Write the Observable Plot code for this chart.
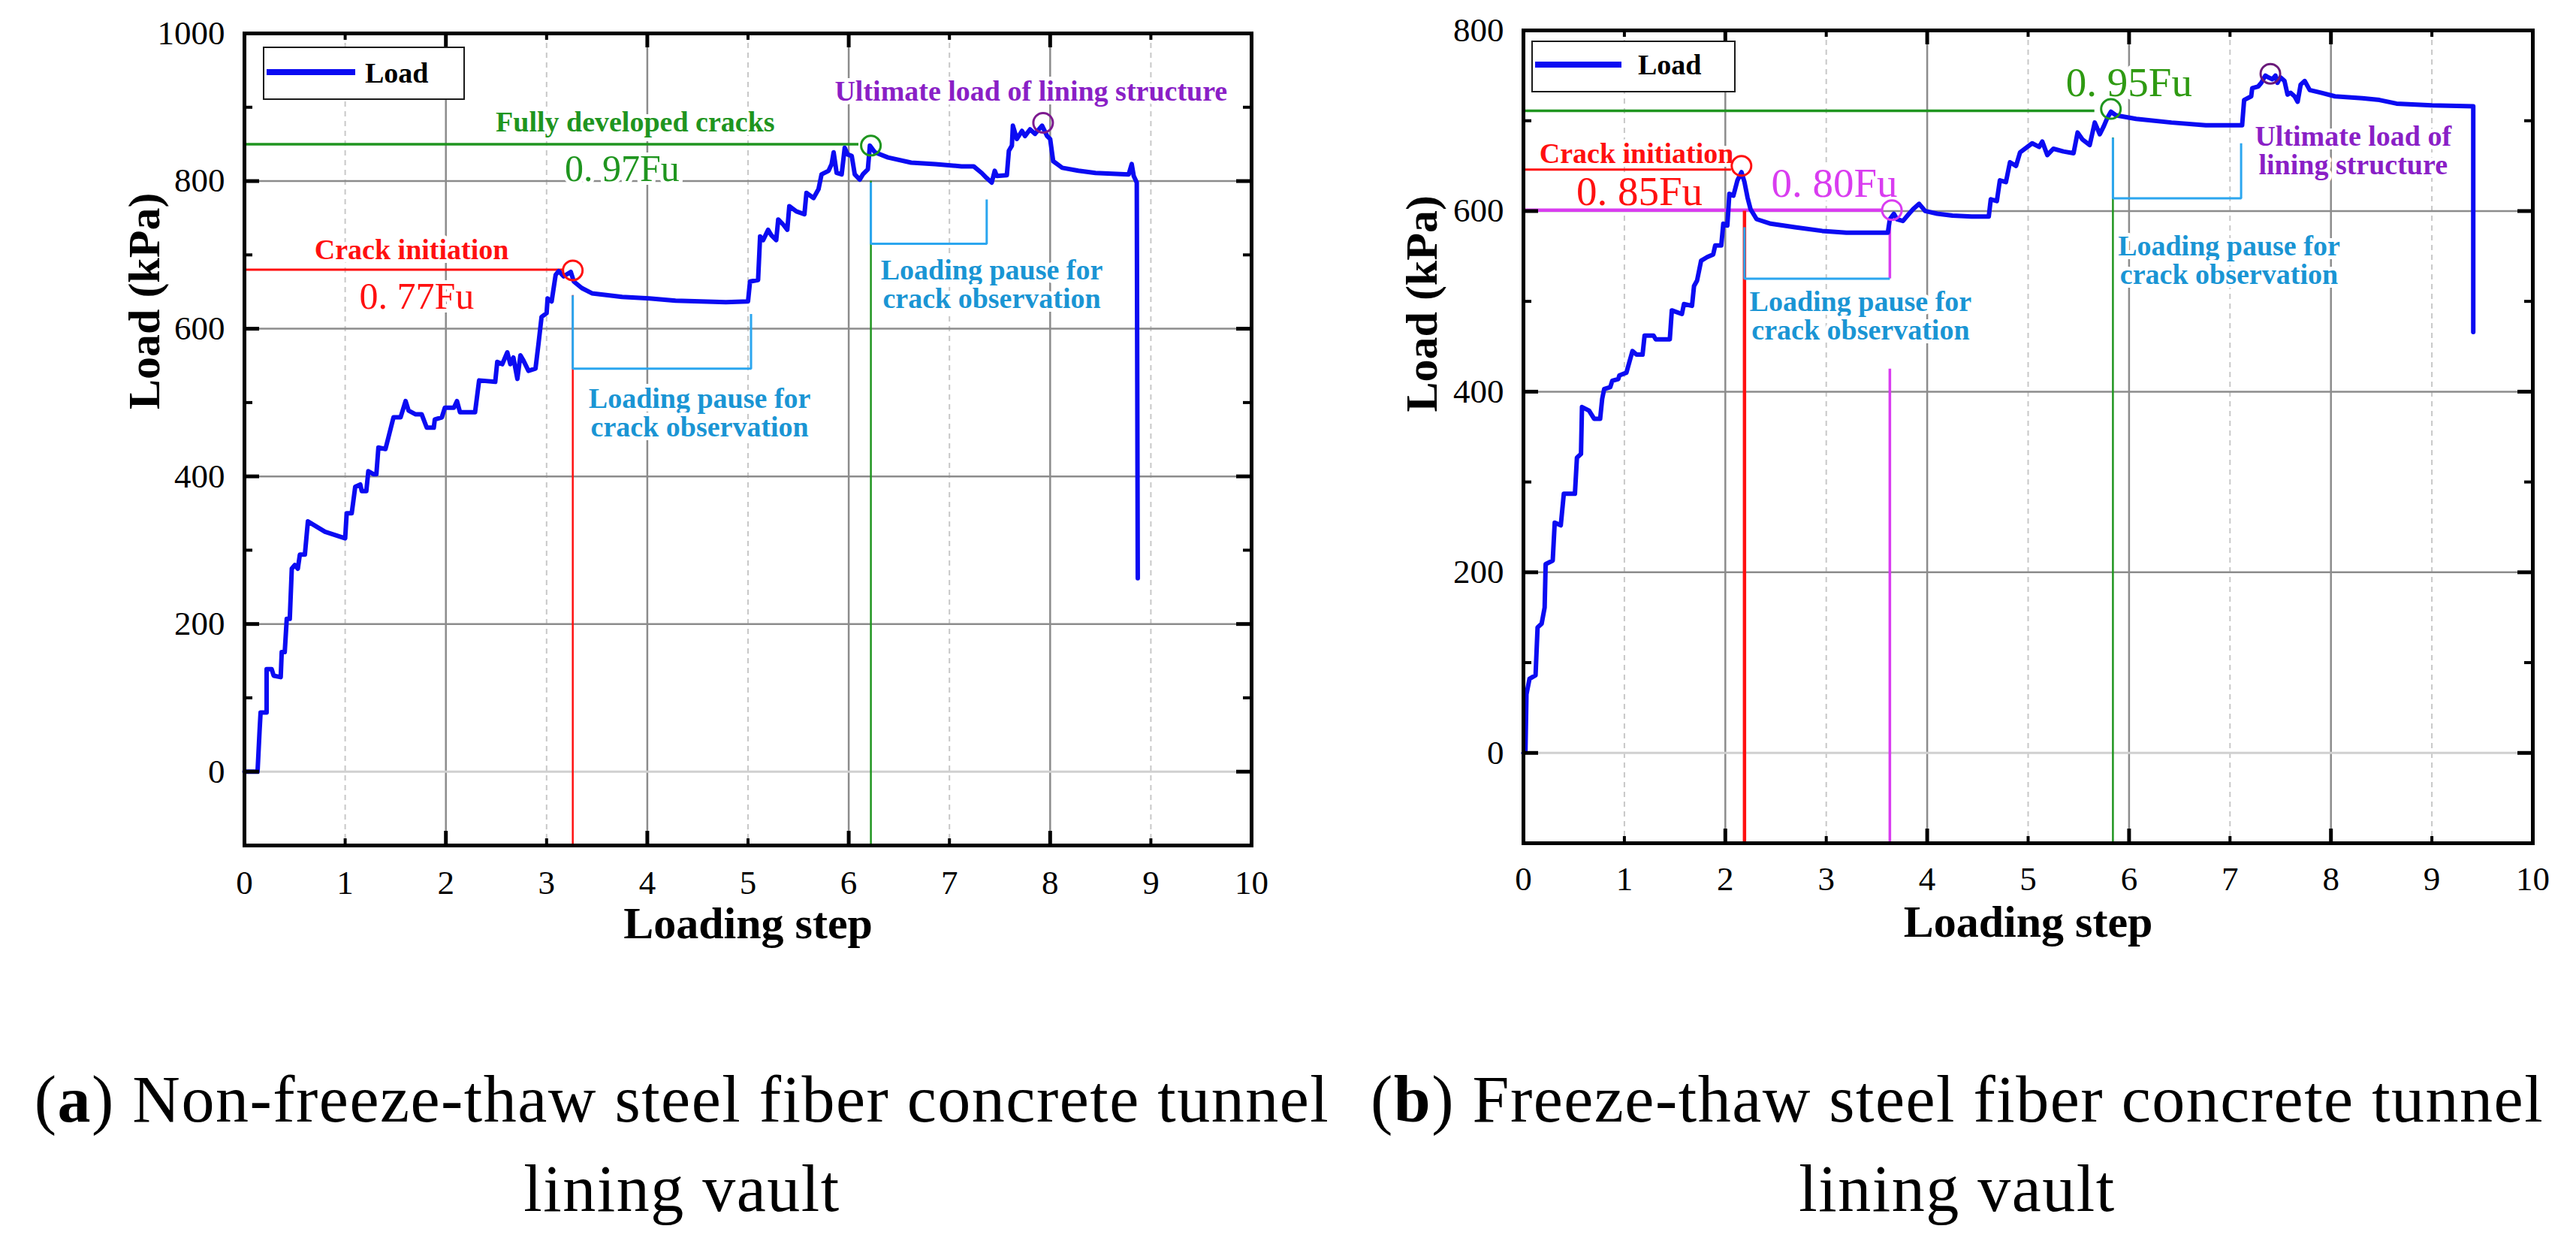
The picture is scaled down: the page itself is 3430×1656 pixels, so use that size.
<!DOCTYPE html>
<html>
<head>
<meta charset="utf-8">
<script src="https://cdn.jsdelivr.net/npm/d3@7"></script>
<script src="https://cdn.jsdelivr.net/npm/@observablehq/plot@0.6"></script>
<style>
  html, body { margin: 0; padding: 0; background: #fff; }
  #page { position: relative; width: 3430px; height: 1656px; overflow: hidden; font-family: "Liberation Serif", "Times New Roman", serif; }
  .panel { position: absolute; top: 0; width: 1715px; height: 1270px; }
  .legend { position: absolute; border: 2.5px solid #1a1a1a; background: #fff; box-sizing: border-box; }
  .legend .swatch { position: absolute; height: 8px; background: #0b0bf2; }
  .legend .lab { position: absolute; font-weight: bold; font-size: 38px; line-height: 38px; }
  .caption { position: absolute; width: 1800px; text-align: center; font-size: 88px; line-height: 119px; letter-spacing: 1.5px; color: #000; }
</style>
</head>
<body>
<div id="page">
  <div class="panel" id="panelA" style="left:0"></div>
  <div class="panel" id="panelB" style="left:1715px"></div>

  <div class="legend" style="left:350px; top:62px; width:269px; height:71px">
    <div class="swatch" style="left:3px; top:28px; width:118px"></div>
    <div class="lab" style="left:134px; top:14px">Load</div>
  </div>
  <div class="legend" style="left:2039px; top:54px; width:272px; height:69px">
    <div class="swatch" style="left:3px; top:26px; width:115px"></div>
    <div class="lab" style="left:140px; top:11px">Load</div>
  </div>

  <div class="caption" style="left:8px; top:1404px">(<b>a</b>) Non-freeze-thaw steel fiber concrete tunnel<br>lining vault</div>
  <div class="caption" style="left:1706px; top:1404px">(<b>b</b>) Freeze-thaw steel fiber concrete tunnel<br>lining vault</div>
</div>

<script>
// ---- data ----

// (a) non-freeze-thaw: loading step vs load (kPa)
const stepA = [0, 0.13, 0.15, 0.16, 0.22, 0.22, 0.27, 0.29, 0.36, 0.37, 0.40, 0.42, 0.45, 0.47, 0.50, 0.53, 0.55, 0.60,
  0.63, 0.80, 1.00, 1.015, 1.065, 1.10, 1.15, 1.165, 1.21, 1.23, 1.28, 1.31, 1.33, 1.40, 1.43, 1.48, 1.55, 1.60,
  1.63, 1.70, 1.76, 1.81, 1.88, 1.89, 1.96, 1.99, 2.08, 2.11, 2.14, 2.29, 2.33, 2.49, 2.51, 2.56, 2.61, 2.64,
  2.67, 2.71, 2.74, 2.77, 2.82, 2.89, 2.92, 2.95, 3.00, 3.01, 3.05, 3.09, 3.12, 3.17, 3.24, 3.27, 3.35, 3.45,
  3.75, 4.02, 4.28, 4.78, 5.00, 5.02, 5.10, 5.12, 5.15, 5.20, 5.23, 5.28, 5.30, 5.35, 5.39, 5.41, 5.48, 5.56,
  5.58, 5.65, 5.70, 5.73, 5.80, 5.83, 5.85, 5.88, 5.93, 5.96, 5.99, 6.03, 6.06, 6.11, 6.14, 6.19, 6.21, 6.26,
  6.39, 6.62, 6.86, 7.12, 7.24, 7.32, 7.37, 7.42, 7.45, 7.47, 7.57, 7.59, 7.62, 7.63, 7.67, 7.72, 7.75, 7.80,
  7.85, 7.92, 7.97, 8.00, 8.03, 8.12, 8.28, 8.45, 8.78, 8.81, 8.83, 8.86, 8.87];
const loadA = [0, 0, 55, 80, 80, 139, 139, 130, 128, 162, 162, 207, 207, 275, 280, 275, 294, 294,
  339, 325, 316, 350, 350, 386, 389, 380, 380, 407, 403, 403, 439, 437, 453, 480, 480, 502,
  489, 484, 484, 466, 466, 477, 480, 493, 493, 502, 487, 487, 530, 528, 555, 552, 568, 552,
  561, 532, 564, 557, 543, 546, 580, 616, 621, 641, 637, 673, 678, 671, 677, 664, 655, 648,
  643, 641, 638, 636, 637, 664, 666, 725, 720, 734, 727, 720, 748, 741, 734, 766, 759, 755,
  784, 777, 789, 809, 814, 823, 839, 811, 809, 845, 836, 834, 809, 802, 809, 816, 848, 839,
  832, 825, 823, 820, 820, 811, 804, 798, 814, 807, 808, 841, 848, 875, 857, 868, 861, 870,
  864, 875, 861, 857, 827, 818, 814, 811, 809, 823, 807, 798, 262];

// (b) freeze-thaw
const stepB = [0, 0.02, 0.03, 0.06, 0.12, 0.14, 0.18, 0.21, 0.22, 0.29, 0.31, 0.37, 0.40, 0.51, 0.53, 0.57, 0.58,
  0.65, 0.70, 0.76, 0.78, 0.80, 0.86, 0.88, 0.94, 0.95, 1.02, 1.08, 1.12, 1.18, 1.20, 1.29, 1.31, 1.45, 1.47,
  1.57, 1.59, 1.67, 1.69, 1.72, 1.76, 1.82, 1.88, 1.90, 1.96, 1.98, 2.02, 2.04, 2.08, 2.12, 2.16, 2.19, 2.22,
  2.25, 2.31, 2.45, 2.69, 2.96, 3.20, 3.61, 3.63, 3.67, 3.70, 3.76, 3.82, 3.86, 3.92, 3.98, 4.10, 4.25, 4.44,
  4.61, 4.63, 4.69, 4.72, 4.78, 4.82, 4.88, 4.92, 5.04, 5.11, 5.14, 5.19, 5.25, 5.35, 5.45, 5.49, 5.54, 5.61,
  5.66, 5.71, 5.75, 5.78, 5.82, 5.87, 6.07, 6.42, 6.76, 7.12, 7.14, 7.21, 7.22, 7.28, 7.31, 7.35, 7.38, 7.42,
  7.45, 7.47, 7.50, 7.54, 7.57, 7.60, 7.64, 7.67, 7.70, 7.74, 7.79, 7.90, 8.04, 8.31, 8.48, 8.65, 9.00, 9.41, 9.41];
const loadB = [0, 3, 65, 82, 86, 139, 143, 161, 209, 213, 255, 252, 287, 287, 327, 331, 383,
  379, 370, 370, 392, 403, 405, 412, 414, 418, 421, 445, 441, 441, 462, 462, 458, 458, 490,
  486, 497, 495, 517, 523, 545, 549, 552, 562, 562, 586, 584, 619, 617, 634, 643, 632, 615,
  602, 591, 586, 582, 578, 576, 576, 591, 597, 591, 589, 597, 602, 608, 600, 597, 595, 594,
  594, 613, 611, 634, 632, 654, 650, 665, 675, 671, 677, 662, 669, 666, 664, 687, 679, 673,
  698, 685, 694, 702, 710, 706, 702, 698, 695, 695, 723, 727, 736, 738, 742, 750, 748, 746,
  750, 742, 748, 744, 729, 731, 727, 721, 740, 744, 734, 731, 727, 725, 723, 719, 717, 716, 466];

// axes
const xTicks = [0, 1, 2, 3, 4, 5, 6, 7, 8, 9, 10];
const xMajor = [2, 4, 6, 8];
const xMinor = [1, 3, 5, 7, 9];
const yTicksA = [0, 200, 400, 600, 800, 1000];
const yMajorA = [0, 200, 400, 600, 800];
const yMinorA = [100, 300, 500, 700, 900];
const yTicksB = [0, 200, 400, 600, 800];
const yMajorB = [0, 200, 400, 600];
const yMinorB = [100, 300, 500, 700];

// marked points [step, load]
const crackA = [3.26, 679], fullA = [6.22, 848], ultA = [7.93, 879];
const crackB = [2.16, 650], resumeB = [3.65, 601], fullB = [5.82, 713], ultB = [7.40, 752];

// pause brackets [step, load]
const pauseA = [
  [[3.26, 645], [3.26, 546], [5.03, 546], [5.03, 620]],
  [[6.22, 798], [6.22, 715], [7.37, 715], [7.37, 775]]
];
const pauseB = [
  [[2.19, 582], [2.19, 525], [3.63, 525]],
  [[5.84, 681], [5.84, 614], [7.11, 614], [7.11, 675]]
];

const pauseText = "Loading pause for\ncrack observation";

// ---- drawing ----
const W = 1715, H = 1270;
const FONT = "'Liberation Serif', 'Times New Roman', serif";
const BLUE = "#0b0bf2", RED = "#ff1010", GREEN = "#1f951f", CYAN = "#2ba6ef", CYANTXT = "#1a95d4",
      PURPLE = "#8a1fc6", MAGENTA = "#d93cf0";

function hLine(y, x1, x2, color, w) {
  return Plot.ruleY([{y, x1, x2}], {y: "y", x1: "x1", x2: "x2", stroke: color, strokeWidth: w});
}
function vLine(x, y1, y2, color, w) {
  return Plot.ruleX([{x, y1, y2}], {x: "x", y1: "y1", y2: "y2", stroke: color, strokeWidth: w});
}
function bracket(pts, color) {
  return Plot.line(pts, {x: d => d[0], y: d => d[1], stroke: color, strokeWidth: 3, strokeLinejoin: "miter", strokeLinecap: "butt"});
}
function ring(pt, color) {
  return Plot.dot([pt], {x: d => d[0], y: d => d[1], r: 13, stroke: color, strokeWidth: 3, fill: "none"});
}
function note(text, x, y, color, size, bold) {
  return Plot.text([{text, x, y}], {
    x: "x", y: "y", text: "text", fill: color, fontSize: size, fontFamily: FONT,
    fontWeight: bold ? "bold" : "normal", lineHeight: 1.0,
    stroke: "white", strokeWidth: 10, paintOrder: "stroke"
  });
}

function panel(o) {
  const pw = W - o.ml - o.mr, ph = H - o.mt - o.mb;
  const curve = o.steps.map((s, i) => ({step: s, load: o.loads[i]}));
  return Plot.plot({
    width: W, height: H,
    marginLeft: o.ml, marginRight: o.mr, marginTop: o.mt, marginBottom: o.mb,
    style: {fontFamily: FONT, fontSize: "45px", color: "black", background: "transparent"},
    x: {domain: [0, 10]},
    y: {domain: o.yDomain},
    marks: [
      // grid
      Plot.ruleX(xMinor, {stroke: "#c8c8c8", strokeWidth: 2, strokeDasharray: "7,6"}),
      Plot.ruleX(xMajor, {stroke: "#8c8c8c", strokeWidth: 2.5}),
      Plot.ruleY(o.yMajor.filter(v => v !== 0), {stroke: "#8c8c8c", strokeWidth: 2.5}),
      Plot.ruleY([0], {stroke: "#d0d0d0", strokeWidth: 3}),
      // annotation text (white halo hides the grid behind)
      ...o.notes,
      // annotation lines
      ...o.lines,
      ...o.brackets.map(b => bracket(b, CYAN)),
      // load curve
      Plot.line(curve, {x: "step", y: "load", stroke: BLUE, strokeWidth: 6, strokeLinejoin: "round"}),
      ...o.rings,
      // axes
      Plot.axisX({ticks: xTicks, anchor: "bottom", tickSize: 0, tickPadding: o.xPad, tickFormat: d => String(d), fontSize: 45, label: null}),
      Plot.axisY({ticks: o.yTicks, anchor: "left", tickSize: 0, tickPadding: 26, tickFormat: d => String(d), fontSize: 45, label: null}),
      // inward ticks on all four sides
      Plot.tickX(xMajor, {x: d => d, insetTop: ph - 19, stroke: "black", strokeWidth: 5}),
      Plot.tickX(xMinor, {x: d => d, insetTop: ph - 9, stroke: "black", strokeWidth: 4}),
      Plot.tickX(xMajor, {x: d => d, insetBottom: ph - 19, stroke: "black", strokeWidth: 5}),
      Plot.tickX(xMinor, {x: d => d, insetBottom: ph - 9, stroke: "black", strokeWidth: 4}),
      Plot.tickY(o.yMajor, {y: d => d, insetRight: pw - 20, stroke: "black", strokeWidth: 5}),
      Plot.tickY(o.yMinor, {y: d => d, insetRight: pw - 11, stroke: "black", strokeWidth: 4}),
      Plot.tickY(o.yMajor, {y: d => d, insetLeft: pw - 20, stroke: "black", strokeWidth: 5}),
      Plot.tickY(o.yMinor, {y: d => d, insetLeft: pw - 11, stroke: "black", strokeWidth: 4}),
      Plot.frame({stroke: "black", strokeWidth: 5}),
      // axis titles
      Plot.text(["Loading step"], {text: d => d, frameAnchor: "bottom", lineAnchor: "middle", dy: o.xTitleDy, fontSize: 60, fontWeight: "bold", fontFamily: FONT}),
      Plot.text(["Load (kPa)"], {text: d => d, frameAnchor: "left", lineAnchor: "middle", rotate: -90, dx: o.yTitleDx, dy: o.yTitleDy, fontSize: 60, fontWeight: "bold", fontFamily: FONT})
    ]
  });
}

const plotA = panel({
  ml: 325, mr: 49, mt: 44, mb: 145,
  yDomain: [-100, 1000],
  steps: stepA, loads: loadA,
  yTicks: yTicksA, yMajor: yMajorA, yMinor: yMinorA,
  xPad: 33, xTitleDy: 104, yTitleDx: -133, yTitleDy: -40,
  notes: [
    note("Crack initiation", 1.66, 707, RED, 38, true),
    note("0. 77Fu", 1.71, 643, RED, 50, false),
    note("Fully developed cracks", 3.88, 880, GREEN, 38, true),
    note("0. 97Fu", 3.75, 816, GREEN, 50, false),
    note(pauseText, 4.52, 486, CYANTXT, 38, true),
    note(pauseText, 7.42, 660, CYANTXT, 38, true),
    note("Ultimate load of lining structure", 7.81, 921, PURPLE, 38, true)
  ],
  lines: [
    hLine(680, 0, 3.17, RED, 3),
    vLine(crackA[0], 645, -100, RED, 2.5),
    hLine(850, 0, 6.10, GREEN, 3.5),
    vLine(fullA[0], 800, -100, GREEN, 2.5)
  ],
  brackets: pauseA,
  rings: [ring(crackA, RED), ring(fullA, GREEN), ring(ultA, "#7d1a90")]
});

const plotB = panel({
  ml: 313, mr: 58, mt: 40, mb: 148,
  yDomain: [-100, 800],
  steps: stepB, loads: loadB,
  yTicks: yTicksB, yMajor: yMajorB, yMinor: yMinorB,
  xPad: 31, xTitleDy: 105, yTitleDx: -135, yTitleDy: -33,
  notes: [
    note("Crack initiation", 1.12, 663, RED, 38, true),
    note("0. 85Fu", 1.15, 621, RED, 55, false),
    note("0. 80Fu", 3.08, 630, MAGENTA, 55, false),
    note("0. 95Fu", 6.00, 742, "#2f9a12", 55, false),
    note(pauseText, 3.34, 484, CYANTXT, 38, true),
    note(pauseText, 6.99, 545, CYANTXT, 38, true),
    note("Ultimate load of\nlining structure", 8.22, 667, PURPLE, 38, true)
  ],
  lines: [
    hLine(646, 0, 2.06, RED, 3),
    hLine(601, 0, 3.55, MAGENTA, 4.5),
    hLine(711, 0, 5.66, GREEN, 3.5),
    vLine(2.19, 600, -100, RED, 4.5),
    vLine(3.63, 588, 525, MAGENTA, 3.5),
    vLine(3.63, 425, -100, MAGENTA, 3.5),
    vLine(5.84, 681, -100, GREEN, 2.5)
  ],
  brackets: pauseB,
  rings: [ring(crackB, RED), ring(resumeB, MAGENTA), ring(fullB, GREEN), ring(ultB, "#6a1a7a")]
});

document.getElementById("panelA").appendChild(plotA);
document.getElementById("panelB").appendChild(plotB);
</script>
</body>
</html>
